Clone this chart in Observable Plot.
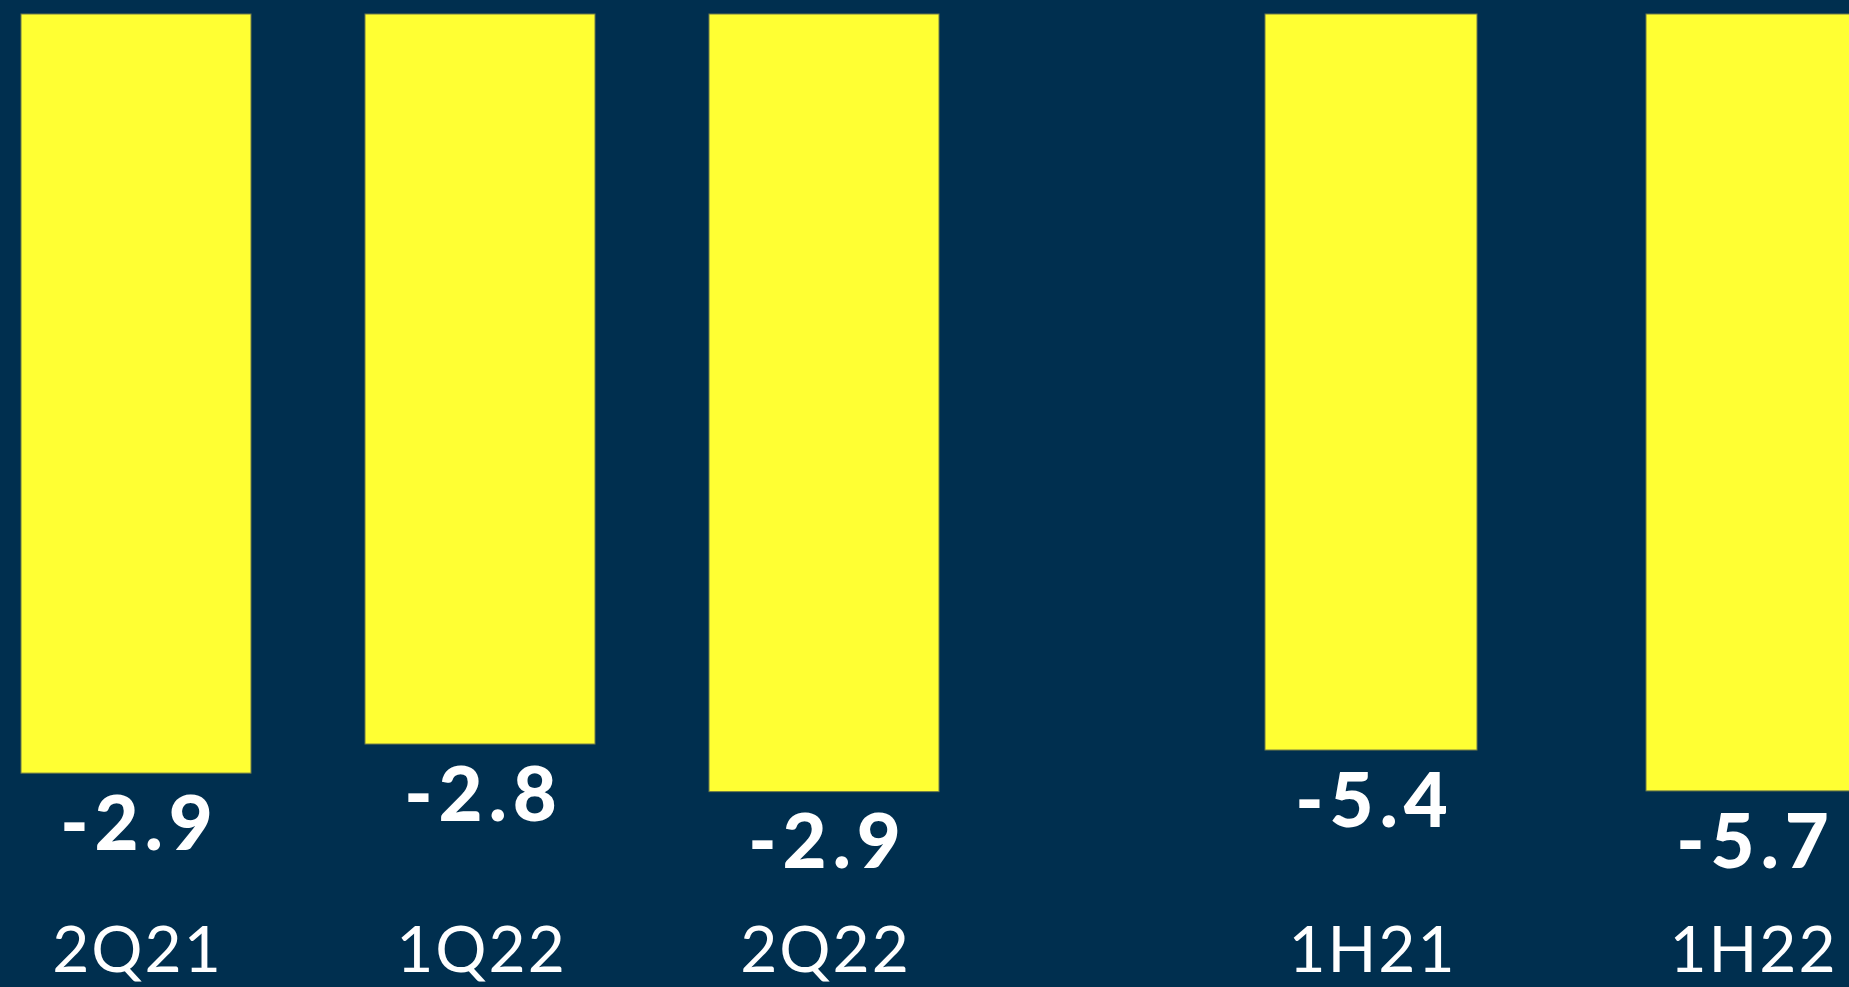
<!DOCTYPE html>
<html>
<head>
<meta charset="utf-8">
<script src="https://cdn.jsdelivr.net/npm/d3@7"></script>
<script src="https://cdn.jsdelivr.net/npm/@observablehq/plot@0.6"></script>
<style>
  html, body { margin: 0; padding: 0; background: #002f4f; overflow: hidden; }
  #wrap { display: flex; flex-direction: row; width: 1849px; height: 987px; }
  #wrap svg { overflow: hidden; flex: none; }
  #wrap g[font-size="76"] text, #wrap text[font-size="76"] { letter-spacing: 6px; }
  #wrap g[font-size="64"] text, #wrap text[font-size="64"] { letter-spacing: 2px; }
</style>
</head>
<body>
<div id="wrap"></div>
<script>
// Quarterly series
const quarters = ["2Q21", "1Q22", "2Q22"];
const quarterValues = [-2.87, -2.76, -2.94];
// Half-year series
const halves = ["1H21", "1H22"];
const halfValues = [-5.4, -5.7];

const BG = "#002f4f";
const YELLOW = "#ffff33";
const FONT = "Lato, 'Open Sans', sans-serif";

function panel(cats, vals, opts) {
  const data = cats.map((c, i) => ({cat: c, value: vals[i]}));
  return Plot.plot({
    width: opts.width,
    height: 987,
    marginTop: 0, marginBottom: 0, marginLeft: 0, marginRight: 0,
    style: {background: BG, color: "white", fontFamily: FONT},
    x: {domain: cats, range: opts.xRange, paddingInner: opts.pad, paddingOuter: 0, axis: null},
    y: {domain: opts.yDomain, range: opts.yRange, axis: null},
    marks: [
      Plot.barY(data, {x: "cat", y1: 0, y2: "value", fill: YELLOW, stroke: "#6f7a4a", strokeWidth: 1}),
      Plot.text(data, {
        x: "cat", y: "value", text: d => d.value.toFixed(1),
        dx: 3, dy: 52, lineAnchor: "middle", fill: "white",
        fontSize: 76, fontWeight: 900, fontFamily: FONT
      }),
      Plot.text(data, {
        x: "cat", text: "cat", frameAnchor: "bottom",
        dx: 1, dy: -36, lineAnchor: "middle", fill: "white",
        fontSize: 64, fontWeight: "normal", fontFamily: FONT
      })
    ]
  });
}

const wrap = document.getElementById("wrap");
wrap.appendChild(panel(quarters, quarterValues, {
  width: 1100, xRange: [21, 939], pad: 0.332,
  yDomain: [0, -3.5], yRange: [14, 14 + 3.5 * 264.5]
}));
wrap.appendChild(panel(halves, halfValues, {
  width: 749, xRange: [165, 758], pad: 0.4436,
  yDomain: [0, -7], yRange: [14, 14 + 7 * 136.3]
}));
</script>
</body>
</html>
